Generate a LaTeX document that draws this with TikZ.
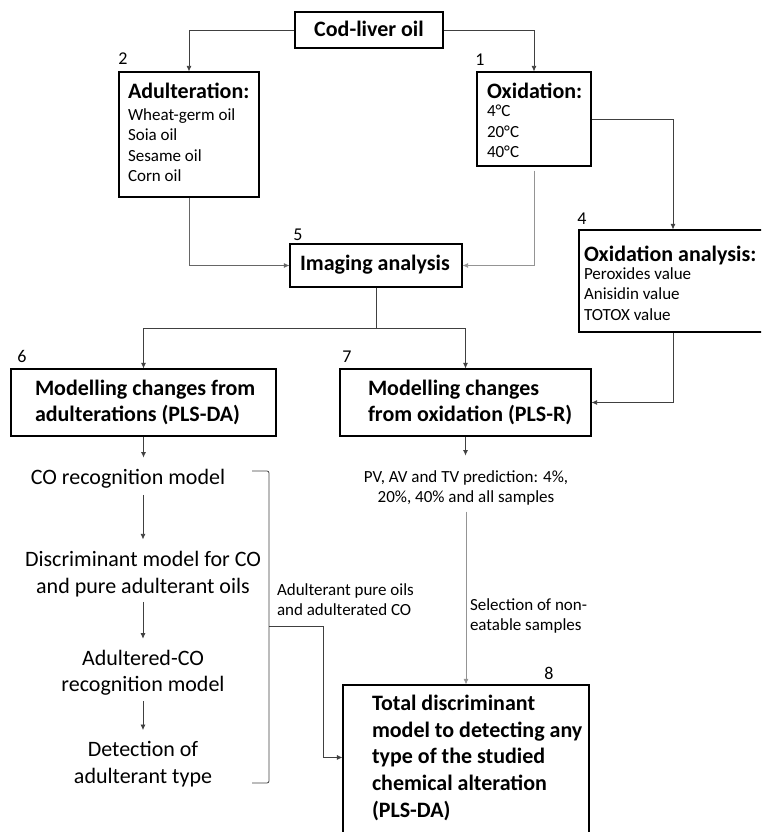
\documentclass[tikz,border=0pt]{standalone}
\usepackage{fontspec}
\setmainfont{Carlito}
\usetikzlibrary{arrows.meta,calc}
\begin{document}
\begin{tikzpicture}[x=1pt,y=-1pt,
  box/.style={draw=black, line width=1.1pt, inner sep=0pt, rectangle},
  conn/.style={draw=black!75, line width=0.8pt, -{Latex[length=5.5pt,width=5pt]}},
  lite/.style={conn, draw=black!42},
  plain/.style={draw=black!75, line width=0.8pt},
  txt/.style={inner sep=0pt, outer sep=0pt},
  bigb/.style={txt, font=\fontsize{22}{26.7}\selectfont\bfseries},
  bigr/.style={txt, font=\fontsize{22}{26.7}\selectfont},
  small/.style={txt, font=\fontsize{17}{20.6}\selectfont},
  num/.style={txt, anchor=base, font=\fontsize{18}{21}\selectfont},
]
\useasboundingbox (0,0) rectangle (761,832);
\clip (0,0) rectangle (761,832);

% boxes
\node[box, minimum width=148pt, minimum height=36pt] (cod) at (369,30) {};
\node[box, minimum width=140pt, minimum height=125pt] (adul) at (189,134.5) {};
\node[box, minimum width=114pt, minimum height=94pt] (oxid) at (534,119) {};
\node[box, minimum width=188pt, minimum height=102pt] (oxan) at (673,281) {};
\node[box, minimum width=172pt, minimum height=43pt] (img) at (376,265.5) {};
\node[box, minimum width=265pt, minimum height=67pt] (m6) at (143.5,402.5) {};
\node[box, minimum width=251pt, minimum height=67pt] (m7) at (465.5,402.5) {};
\node[box, minimum width=246pt, minimum height=160pt] (b8) at (466,765) {};

% numbers
\node[num] (n2) at (123,65) {2};
\node[num] (n1) at (480,66) {1};
\node[num] (n5) at (298,240) {5};
\node[num] (n4) at (582,224) {4};
\node[num] (n6) at (22,362) {6};
\node[num] (n7) at (347,362) {7};
\node[num] (n8) at (549,679) {8};

% texts in boxes (multi-line nodes: base = baseline of last line)
\node[bigb, anchor=base] (codt) at (369,37) {Cod-liver oil};
\node[bigb, anchor=base west] (adult) at (128,98.5) {Adulteration:};
\node[small, anchor=base west, align=left] (adulit) at (128,181.8) {Wheat-germ oil\\Soia oil\\Sesame oil\\Corn oil};
\node[bigb, anchor=base west] (oxidt) at (487,98.5) {Oxidation:};
\node[small, anchor=base west, align=left] (oxidit) at (487,157.7) {4°C\\20°C\\40°C};
\node[bigb, anchor=base west] (oxant) at (584,261) {Oxidation analysis:};
\node[small, anchor=base west, align=left] (oxanit) at (584,320.5) {Peroxides value\\Anisidin value\\TOTOX value};
\node[bigb, anchor=base west] (imgt) at (300,270.5) {Imaging analysis};
\node[bigb, anchor=base west, align=left] (m6t) at (35,421.7) {Modelling changes from\\adulterations (PLS-DA)};
\node[bigb, anchor=base west, align=left] (m7t) at (368,421.7) {Modelling changes\\from oxidation (PLS-R)};
\node[bigb, anchor=base west, align=left] (b8t) at (372,817.3) {Total discriminant\\model to detecting any\\type of the studied\\chemical alteration\\(PLS-DA)};

% free texts
\node[bigr, anchor=base] (co1) at (128,484) {CO recognition model};
\node[bigr, anchor=base, align=center] (co2) at (143,593.4) {Discriminant model for CO\\and pure adulterant oils};
\node[bigr, anchor=base, align=center] (co3) at (143,691.7) {Adultered-CO\\recognition model};
\node[bigr, anchor=base, align=center] (co4) at (143,783) {Detection of\\adulterant type};
\node[small, anchor=base, align=center] (pv) at (466,502.9) {PV, AV and TV prediction: 4\%,\\20\%, 40\% and all samples};
\node[small, anchor=base west, align=left] (sel) at (470,630.6) {Selection of non-\\eatable samples};
\node[small, anchor=base west, align=left] (adl) at (277,615.6) {Adulterant pure oils\\and adulterated CO};

% connectors
\draw[conn] (cod.west) -| (adul.north);
\draw[conn] (cod.east) -| (oxid.north);
\draw[conn] (oxid.east) -| (oxan.north);
\draw[lite] ([yshift=-4pt]oxid.south) |- (img.east);
\draw[conn, draw=black!60] (adul.south) |- (img.west);
\draw[conn] (img.south) -- ++(0,41) -| (m6.north);
\draw[conn] (img.south) -- ++(0,41) -| (m7.north);
\draw[conn] (oxan.south) |- (m7.east);
\draw[conn] (m6.south) -- ++(0,21);
\draw[conn] ([yshift=-7pt]co1.south -| co2.north) -- ([yshift=12pt]co2.north);
\draw[conn] ([yshift=-5pt]co2.south) -- ([yshift=11pt]co3.north);
\draw[conn] ([yshift=-6pt]co3.south) -- ([yshift=11pt]co4.north);
\draw[conn] (m7.south) -- ++(0,19);
\draw[lite] ([yshift=-6pt]pv.south) -- (b8.north);

% bracket
\coordinate (bt1) at (252,471);
\coordinate (bt2) at (269,471);
\coordinate (bb2) at (269,783);
\coordinate (bb1) at (252,783);
\coordinate (bm) at (269,626);
\draw[plain, rounded corners=2pt] (bt1) -- (bt2) -- (bb2) -- (bb1);
\draw[conn] (bm) -- ++(54,0) |- ([yshift=-73pt]b8.north west);
\end{tikzpicture}
\end{document}
